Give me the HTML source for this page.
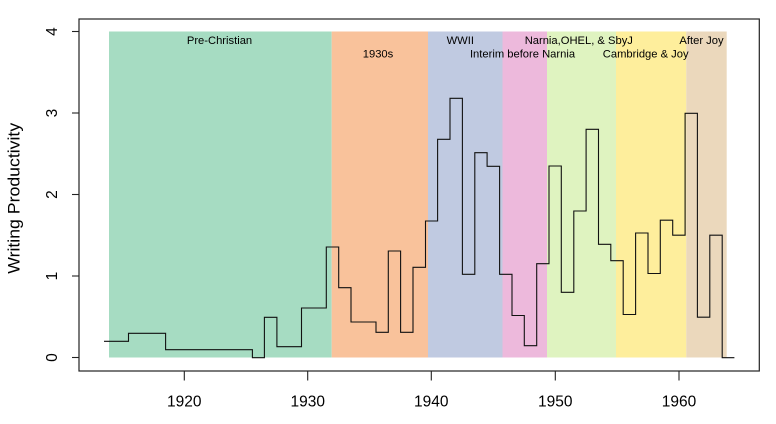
<!DOCTYPE html>
<html>
<head>
<meta charset="utf-8">
<style>
html,body{margin:0;padding:0;background:#fff;}
svg{display:block;}
text{font-family:"Liberation Sans",Arial,sans-serif;fill:#000;}
</style>
</head>
<body>
<svg width="776" height="424" viewBox="0 0 776 424" xmlns="http://www.w3.org/2000/svg">
<rect x="0" y="0" width="776" height="424" fill="#fff"/>
<!-- bands -->
<rect x="109" y="31.5" width="222.7" height="326" fill="#A6DCC2"/>
<rect x="331.7" y="31.5" width="96.3" height="326" fill="#F9C29B"/>
<rect x="428" y="31.5" width="74.5" height="326" fill="#C0CAE1"/>
<rect x="502.5" y="31.5" width="44.5" height="326" fill="#EDB9DC"/>
<rect x="547" y="31.5" width="69" height="326" fill="#DFF3C0"/>
<rect x="616" y="31.5" width="70.3" height="326" fill="#FEEE9C"/>
<rect x="686.3" y="31.5" width="40.4" height="326" fill="#EBD8BC"/>
<!-- band labels -->
<g font-size="11.2" text-anchor="middle">
<text x="219.5" y="44">Pre-Christian</text>
<text x="378" y="57.3">1930s</text>
<text x="460.3" y="44">WWII</text>
<text x="522.5" y="57.3">Interim before Narnia</text>
<text x="578.8" y="44">Narnia,OHEL, &amp; SbyJ</text>
<text x="645.7" y="57.3">Cambridge &amp; Joy</text>
<text x="701.5" y="44">After Joy</text>
</g>
<!-- step line -->
<path fill="none" stroke="#111" stroke-width="1.1" d="M104,341.3 H128.5 V333.3 H165.6 V349.7 H252.4 V357.7 H264.4 V317.3 H276.9 V346.7 H301.5 V308 H326.3 V247 H338.7 V287.7 H351 V322 H376 V332.3 H388.3 V251 H400.6 V332.3 H413 V267.3 H425.5 V221 H437.6 V139.3 H450 V98.3 H462.4 V274.3 H474.8 V152.7 H487.1 V166.3 H499.6 V274.3 H512 V315.5 H524.3 V345.7 H536.7 V263.7 H549 V166 H561.3 V292.3 H573.8 V211 H586.1 V129.3 H598.5 V244.3 H610.8 V260.7 H623.2 V314.5 H635.6 V233 H648 V273.5 H660.3 V220.2 H672.7 V235.2 H685.1 V113.3 H697.4 V317.2 H709.8 V235.2 H722.2 V357.7 H734.4"/>
<!-- box -->
<rect x="79" y="19" width="680.3" height="352" fill="none" stroke="#222" stroke-width="1.2"/>
<!-- y ticks -->
<g stroke="#222" stroke-width="1.1">
<line x1="72" y1="357.5" x2="79" y2="357.5"/>
<line x1="72" y1="276" x2="79" y2="276"/>
<line x1="72" y1="194.5" x2="79" y2="194.5"/>
<line x1="72" y1="113" x2="79" y2="113"/>
<line x1="72" y1="31.5" x2="79" y2="31.5"/>
<line x1="184.3" y1="371" x2="184.3" y2="380.5"/>
<line x1="307.7" y1="371" x2="307.7" y2="380.5"/>
<line x1="431.3" y1="371" x2="431.3" y2="380.5"/>
<line x1="555.3" y1="371" x2="555.3" y2="380.5"/>
<line x1="679" y1="371" x2="679" y2="380.5"/>
</g>
<g font-size="15.5" text-anchor="middle">
<text transform="translate(57,357.5) rotate(-90)">0</text>
<text transform="translate(57,276) rotate(-90)">1</text>
<text transform="translate(57,194.5) rotate(-90)">2</text>
<text transform="translate(57,113) rotate(-90)">3</text>
<text transform="translate(57,31.5) rotate(-90)">4</text>
<text x="184.3" y="406.7">1920</text>
<text x="307.7" y="406.7">1930</text>
<text x="431.3" y="406.7">1940</text>
<text x="555.3" y="406.7">1950</text>
<text x="679" y="406.7">1960</text>
</g>
<text font-size="17" text-anchor="middle" transform="translate(19.3,198.3) rotate(-90)" textLength="151" lengthAdjust="spacingAndGlyphs">Writing Productivity</text>
</svg>
</body>
</html>
